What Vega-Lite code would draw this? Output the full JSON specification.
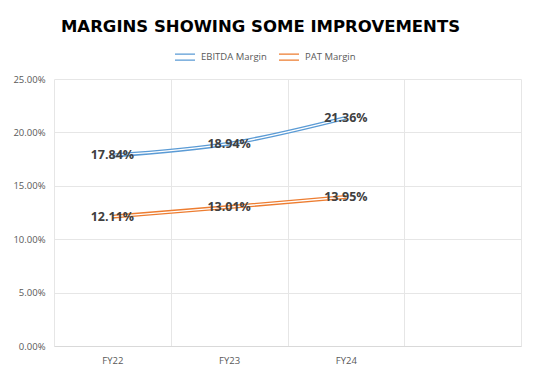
{
  "$schema": "https://vega.github.io/schema/vega-lite/v6.json",
  "width": 467,
  "height": 267,
  "autosize": "none",
  "padding": {"left": 54, "top": 79, "right": 20, "bottom": 36},
  "background": "white",
  "title": {
    "text": "MARGINS SHOWING SOME IMPROVEMENTS",
    "font": "DejaVu Sans",
    "fontSize": 16.5,
    "fontWeight": "bold",
    "color": "#000000",
    "anchor": "middle",
    "dx": -27,
    "offset": 11
  },
  "config": {
    "view": {"stroke": null},
    "font": "Open Sans"
  },
  "data": {
    "values": [
      {"year": "FY22", "series": "EBITDA Margin", "value": 0.1784},
      {"year": "FY23", "series": "EBITDA Margin", "value": 0.1894},
      {"year": "FY24", "series": "EBITDA Margin", "value": 0.2136},
      {"year": "FY22", "series": "PAT Margin", "value": 0.1211},
      {"year": "FY23", "series": "PAT Margin", "value": 0.1301},
      {"year": "FY24", "series": "PAT Margin", "value": 0.1395}
    ]
  },
  "encoding": {
    "x": {
      "field": "year",
      "type": "ordinal",
      "scale": {"type": "band", "domain": ["FY22", "FY23", "FY24", " "], "paddingInner": 0, "paddingOuter": 0},
      "axis": {
        "title": null,
        "labelAngle": 0,
        "tickBand": "extent",
        "ticks": false,
        "grid": true,
        "gridColor": "#e6e6e6",
        "domainColor": "#d9d9d9",
        "labelColor": "#595959",
        "labelFont": "Open Sans",
        "labelFontSize": 9.5,
        "labelPadding": 9
      }
    },
    "y": {
      "field": "value",
      "type": "quantitative",
      "scale": {"domain": [0, 0.25]},
      "axis": {
        "title": null,
        "format": ".2%",
        "values": [0, 0.05, 0.1, 0.15, 0.2, 0.25],
        "domain": false,
        "ticks": false,
        "gridColor": "#e6e6e6",
        "labelColor": "#595959",
        "labelFont": "Open Sans",
        "labelFontSize": 9.5,
        "labelPadding": 9
      }
    }
  },
  "layer": [
    {
      "mark": {"type": "line", "strokeWidth": 4, "interpolate": "monotone"},
      "encoding": {
        "color": {
          "field": "series",
          "type": "nominal",
          "scale": {"domain": ["EBITDA Margin", "PAT Margin"], "range": ["#5B9BD5", "#ED7D31"]},
          "legend": {
            "title": null,
            "orient": "none",
            "legendX": 120,
            "legendY": -33,
            "direction": "horizontal",
            "symbolType": "M-1,-0.3H1M-1,0.3H1",
            "symbolSize": 400,
            "symbolStrokeWidth": 1.3,
            "labelColor": "#595959",
            "labelFont": "Open Sans",
            "labelFontSize": 9.5,
            "columnPadding": 9,
            "labelOffset": 5
          }
        }
      }
    },
    {
      "mark": {"type": "line", "strokeWidth": 1.3, "interpolate": "monotone", "color": "white"},
      "encoding": {"detail": {"field": "series", "type": "nominal"}}
    },
    {
      "mark": {"type": "text", "font": "Open Sans", "fontWeight": "bold", "fontSize": 12.5, "color": "#404040"},
      "encoding": {"text": {"field": "value", "type": "quantitative", "format": ".2%"}}
    }
  ]
}
